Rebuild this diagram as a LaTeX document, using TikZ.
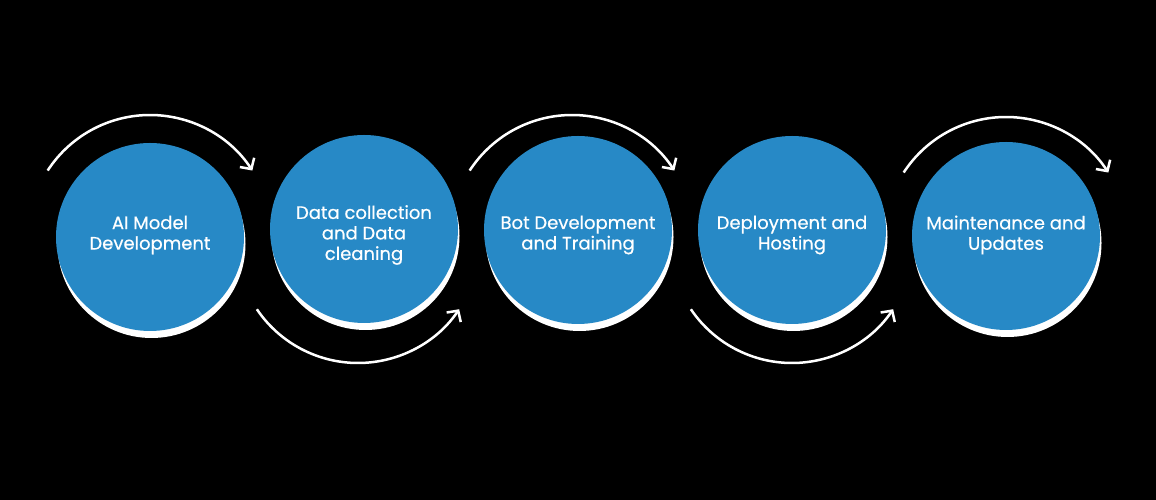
\documentclass[tikz,border=0pt]{standalone}
\usepackage{fontspec}
\setmainfont{Poppins}[FakeBold=0.5]
\usetikzlibrary{arrows.meta,shadows}
\definecolor{stageblue}{HTML}{2789C6}
\tikzset{
  stage/.style={circle,fill=stageblue,minimum size=188pt,inner sep=0pt,
    drop shadow={shadow xshift=1.5pt,shadow yshift=-7pt,fill=white,opacity=1}},
  stagetext/.style={text=white,align=center,font=\fontsize{18}{20.5}\selectfont},
  flow/.style={white,line width=2.5pt,-{Straight Barb[length=8pt,width=17pt]}}
}
\begin{document}
\begin{tikzpicture}[x=1pt,y=1pt]
	\fill[black] (0,0) rectangle (1156,500);
	\foreach \n/\x/\y in {model/150/263,data/364/271,bot/578/270,deploy/792/270,maint/1006/264}
		\node[stage] (\n) at (\x,\y) {};
	\foreach \n/\t in {model/{AI Model\\Development},data/{Data collection\\and Data\\cleaning},bot/{Bot Development\\and Training},deploy/{Deployment and\\Hosting},maint/{Maintenance and\\Updates}}
		\node[stagetext] at (\n |- 0,265) {\t};
	\foreach \x/\y/\a/\b in {150/263/147/33,358/259/214/326,572/263/147/33,792/259/214/326,1006/261/147/33}
		\draw[flow] ([shift={(\a:122pt)}]\x,\y) arc[start angle=\a,end angle=\b,radius=122pt];
\end{tikzpicture}
\end{document}
